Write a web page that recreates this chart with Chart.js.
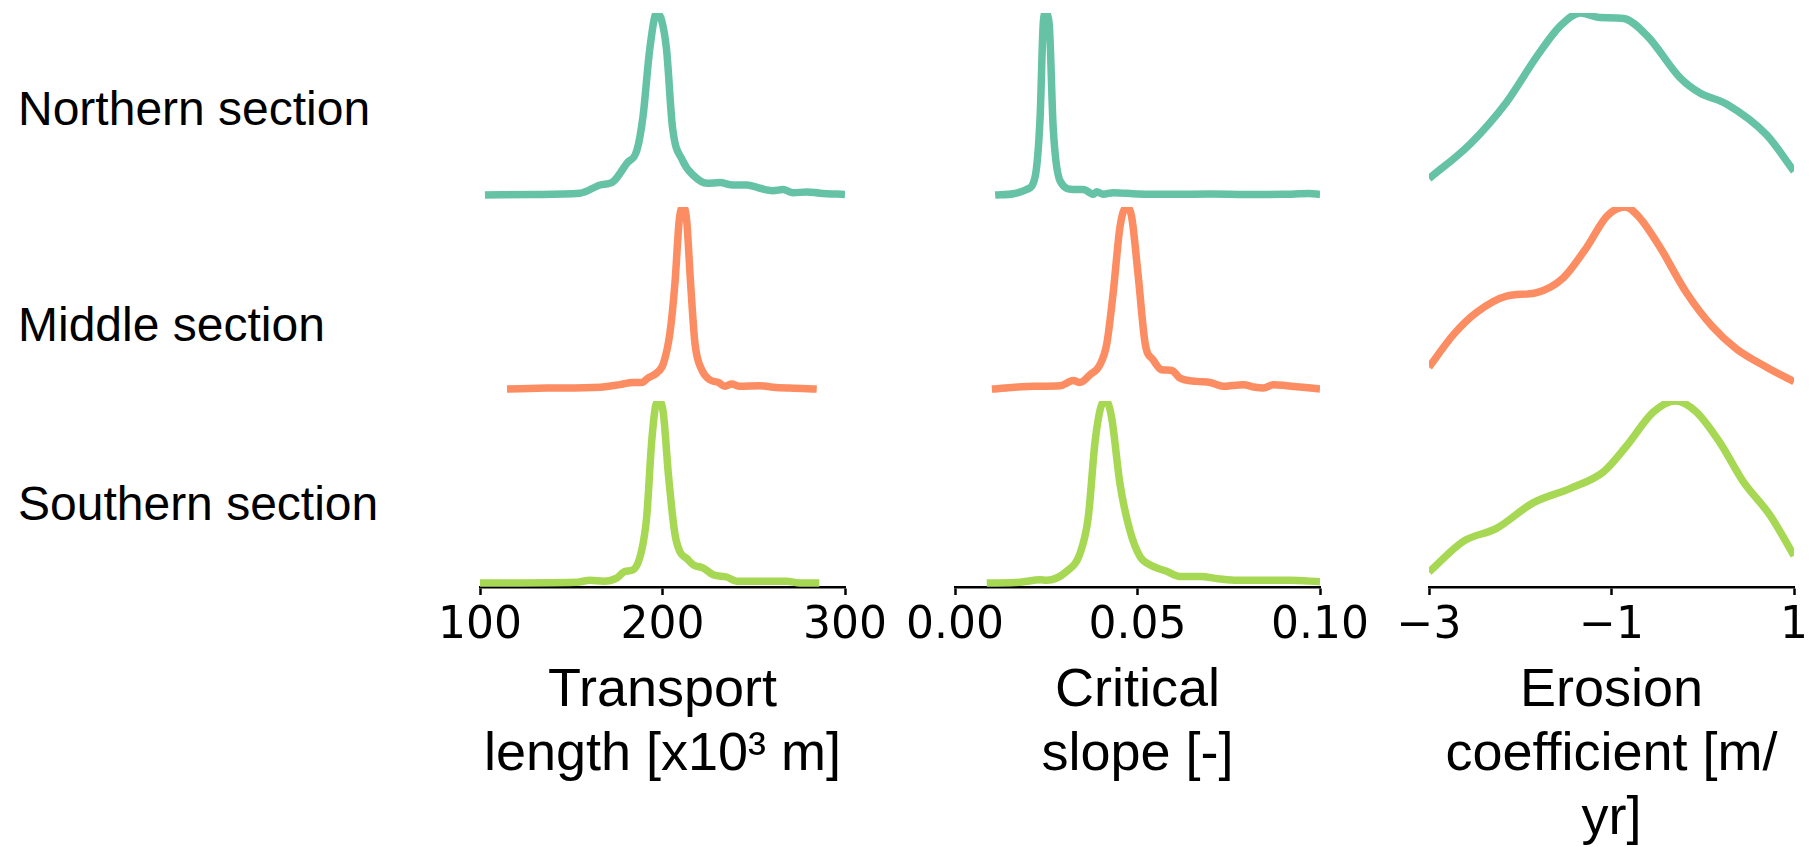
<!DOCTYPE html>
<html lang="en">
<head>
    <meta charset="UTF-8">
    <title>Parameter distributions by section</title>
    <script src="https://cdn.jsdelivr.net/npm/chart.js"></script>
    <style>
        body {
            margin: 0;
            padding: 0;
            background: #fff;
            width: 1811px;
            height: 847px;
            position: relative;
            overflow: hidden;
        }
        .row-label {
            position: absolute;
            left: 18px;
            font-family: "Liberation Sans", Arial, sans-serif;
            font-size: 48px;
            line-height: 48px;
            color: #000;
            white-space: nowrap;
        }
        canvas {
            position: absolute;
        }
    </style>
</head>
<body>

<div class="row-label" style="top: 85px;">Northern section</div>
<div class="row-label" style="top: 301px;">Middle section</div>
<div class="row-label" style="top: 480px;">Southern section</div>

<script>
    // Relative density (peak = 1) of each parameter, one curve per section
    const sections = ['Northern section', 'Middle section', 'Southern section'];
    const sectionColors = ['#66c2a5', '#fc8d62', '#a6d854'];

    // Transport length [x10^3 m]
    const transportNorthX = [102.7, 130, 154.8, 165.8, 172.9, 180.5, 186, 189.3, 193, 196.8, 199.5, 202.2, 205.5, 211, 216.7, 224.4, 231.5, 238.6, 246.3, 253.4, 260.5, 266, 271.5, 279, 286.3, 300];
    const transportNorthY = [0, 0.003, 0.01, 0.055, 0.073, 0.175, 0.247, 0.43, 0.80, 1.0, 0.96, 0.80, 0.37, 0.19, 0.11, 0.065, 0.068, 0.055, 0.055, 0.037, 0.024, 0.03, 0.012, 0.017, 0.01, 0.003];
    const transportMiddleX = [114.8, 136.5, 165.8, 176.7, 183.8, 188.6, 192, 196.8, 200.5, 204.1, 206.8, 209.2, 211.4, 213.2, 215.4, 217.8, 221.5, 226, 230.6, 234.2, 237.9, 242.5, 253.4, 260.7, 269.9, 284.5];
    const transportMiddleY = [0, 0.005, 0.01, 0.024, 0.036, 0.036, 0.06, 0.088, 0.14, 0.31, 0.58, 0.93, 1.0, 0.93, 0.58, 0.25, 0.106, 0.05, 0.036, 0.015, 0.027, 0.015, 0.018, 0.01, 0.005, 0];
    const transportSouthX = [100, 153, 160.3, 167.6, 174.9, 179.5, 184, 188.6, 191.3, 194.1, 196.4, 198.2, 200.5, 203.2, 206.8, 209.6, 213.2, 216.9, 222.4, 227.8, 235.2, 240.7, 251.6, 268, 275.3, 285.9];
    const transportSouthY = [0, 0.004, 0.015, 0.01, 0.027, 0.064, 0.073, 0.18, 0.36, 0.78, 0.98, 1.0, 0.93, 0.60, 0.27, 0.17, 0.136, 0.10, 0.082, 0.045, 0.033, 0.009, 0.009, 0.009, 0, 0];

    // Critical slope [-]
    const slopeNorthX = [0.011, 0.016, 0.0196, 0.0219, 0.0233, 0.0242, 0.0248, 0.0258, 0.0269, 0.0288, 0.0324, 0.0352, 0.0379, 0.0388, 0.0406, 0.0434, 0.05, 0.06, 0.07, 0.08, 0.09, 0.097, 0.1];
    const slopeNorthY = [0, 0.007, 0.03, 0.095, 0.42, 0.95, 1.0, 0.94, 0.37, 0.077, 0.03, 0.03, 0.004, 0.018, 0.004, 0.013, 0.006, 0.004, 0.005, 0.003, 0.004, 0.008, 0.003];
    const slopeMiddleX = [0.0101, 0.0215, 0.0288, 0.0324, 0.0342, 0.037, 0.0397, 0.0416, 0.0434, 0.0452, 0.047, 0.0484, 0.0502, 0.0521, 0.0543, 0.0566, 0.0594, 0.0616, 0.0662, 0.0699, 0.0735, 0.079, 0.0818, 0.0845, 0.0872, 0.0909, 0.0945, 0.1];
    const slopeMiddleY = [0, 0.015, 0.018, 0.046, 0.036, 0.078, 0.133, 0.25, 0.54, 0.89, 1.0, 0.945, 0.62, 0.25, 0.16, 0.106, 0.102, 0.06, 0.042, 0.036, 0.015, 0.024, 0.011, 0.005, 0.024, 0.018, 0.011, 0];
    const slopeSouthX = [0.0087, 0.0178, 0.0233, 0.0251, 0.0306, 0.0342, 0.0365, 0.0384, 0.0402, 0.0414, 0.0429, 0.0452, 0.0479, 0.0507, 0.0534, 0.058, 0.0616, 0.0671, 0.0726, 0.0772, 0.0854, 0.0918, 0.1];
    const slopeSouthY = [0, 0.004, 0.018, 0.015, 0.064, 0.16, 0.36, 0.78, 0.98, 1.0, 0.91, 0.545, 0.29, 0.145, 0.1, 0.064, 0.036, 0.036, 0.022, 0.015, 0.015, 0.015, 0.007];

    // Erosion coefficient [m/yr]
    const erosionNorthX = [-3, -2.55, -2.15, -1.82, -1.56, -1.34, -1.13, -0.87, -0.61, -0.25, -0.03, 0.26, 0.70, 1.0];
    const erosionNorthY = [0.09, 0.28, 0.51, 0.76, 0.93, 1.0, 0.975, 0.97, 0.875, 0.645, 0.56, 0.50, 0.33, 0.13];
    const erosionMiddleX = [-3, -2.73, -2.48, -2.15, -1.82, -1.53, -1.27, -1.05, -0.85, -0.69, -0.47, -0.18, 0.11, 0.37, 0.70, 1.0];
    const erosionMiddleY = [0.12, 0.30, 0.42, 0.51, 0.53, 0.61, 0.78, 0.95, 1.0, 0.94, 0.78, 0.53, 0.34, 0.22, 0.12, 0.04];
    const erosionSouthX = [-3, -2.62, -2.26, -1.86, -1.45, -1.09, -0.84, -0.54, -0.30, -0.07, 0.19, 0.44, 0.74, 1.0];
    const erosionSouthY = [0.06, 0.23, 0.30, 0.44, 0.52, 0.61, 0.75, 0.94, 1.0, 0.94, 0.77, 0.56, 0.37, 0.15];

    // Axis settings per parameter column
    const transportTicks = { min: 100, max: 300, step: 100 };
    const slopeTicks = { min: 0, max: 0.1, step: 0.05 };
    const erosionTicks = { min: -3, max: 1, step: 2 };
    const transportTitle = ['Transport', 'length [x10\u00b3 m]'];
    const slopeTitle = ['Critical', 'slope [-]'];
    const erosionTitle = ['Erosion', 'coefficient [m/', 'yr]'];

    const columns = [
        { left: 480, ticks: transportTicks, title: transportTitle, fmt: v => String(v),
          curves: [[transportNorthX, transportNorthY], [transportMiddleX, transportMiddleY], [transportSouthX, transportSouthY]] },
        { left: 955, ticks: slopeTicks, title: slopeTitle, fmt: v => v.toFixed(2),
          curves: [[slopeNorthX, slopeNorthY], [slopeMiddleX, slopeMiddleY], [slopeSouthX, slopeSouthY]] },
        { left: 1429, ticks: erosionTicks, title: erosionTitle, fmt: v => (v < 0 ? '\u2212' + Math.abs(v) : String(v)),
          curves: [[erosionNorthX, erosionNorthY], [erosionMiddleX, erosionMiddleY], [erosionSouthX, erosionSouthY]] }
    ];

    // Panel geometry (chart area of each small plot)
    const PANEL_W = 365;
    const PANEL_H = 186;
    const ROW_TOPS = [13, 207, 401];
    const PAD = 8;
    const SIDE = 60;        // room for the edge tick labels on the bottom row
    const TITLE_LINE = 64;

    function makePanel(col, row) {
        const bottomRow = row === ROW_TOPS.length - 1;
        const [xs, ys] = col.curves[row];
        const points = xs.map((x, i) => ({ x: x, y: ys[i] }));

        // height of the x axis box so that the title's first line sits at a fixed spot
        const axisHeight = 136 + TITLE_LINE * (col.title.length - 1);

        const side = bottomRow ? SIDE : PAD;
        const canvas = document.createElement('canvas');
        const w = PANEL_W + 2 * side;
        const h = bottomRow ? PAD + PANEL_H + axisHeight : PANEL_H + 2 * PAD;
        canvas.width = w;
        canvas.height = h;
        canvas.style.width = w + 'px';
        canvas.style.height = h + 'px';
        canvas.style.left = (col.left - side) + 'px';
        canvas.style.top = (ROW_TOPS[row] - PAD) + 'px';
        document.body.appendChild(canvas);

        const xAxis = {
            type: 'linear',
            display: bottomRow,
            min: col.ticks.min,
            max: col.ticks.max,
            border: { display: true, color: '#000', width: 2.5 },
            grid: {
                display: true,
                drawOnChartArea: false,
                drawTicks: true,
                tickLength: 8,
                tickWidth: 2.5,
                tickColor: '#000'
            },
            ticks: {
                stepSize: col.ticks.step,
                maxRotation: 0,
                padding: 5,
                color: '#000',
                font: { family: '"DejaVu Sans"', size: 44 },
                callback: v => col.fmt(v)
            },
            title: {
                display: true,
                text: col.title,
                color: '#000',
                padding: 0,
                font: { family: '"Liberation Sans", Arial, sans-serif', size: 54, lineHeight: TITLE_LINE + 'px' }
            }
        };
        if (bottomRow) {
            xAxis.afterFit = scale => { scale.height = axisHeight; };
        }

        new Chart(canvas.getContext('2d'), {
            type: 'line',
            data: {
                datasets: [{
                    label: sections[row],
                    data: points,
                    borderColor: sectionColors[row],
                    borderWidth: 7.5,
                    pointRadius: 0,
                    fill: false,
                    cubicInterpolationMode: 'monotone'
                }]
            },
            options: {
                responsive: false,
                animation: false,
                layout: {
                    padding: { left: side, right: side, top: PAD, bottom: bottomRow ? 0 : PAD }
                },
                plugins: {
                    legend: { display: false },
                    tooltip: { enabled: false }
                },
                scales: {
                    x: xAxis,
                    y: {
                        display: false,
                        min: -0.022,
                        max: 1
                    }
                }
            }
        });
    }

    columns.forEach(col => {
        ROW_TOPS.forEach((top, row) => makePanel(col, row));
    });
</script>
</body>
</html>
